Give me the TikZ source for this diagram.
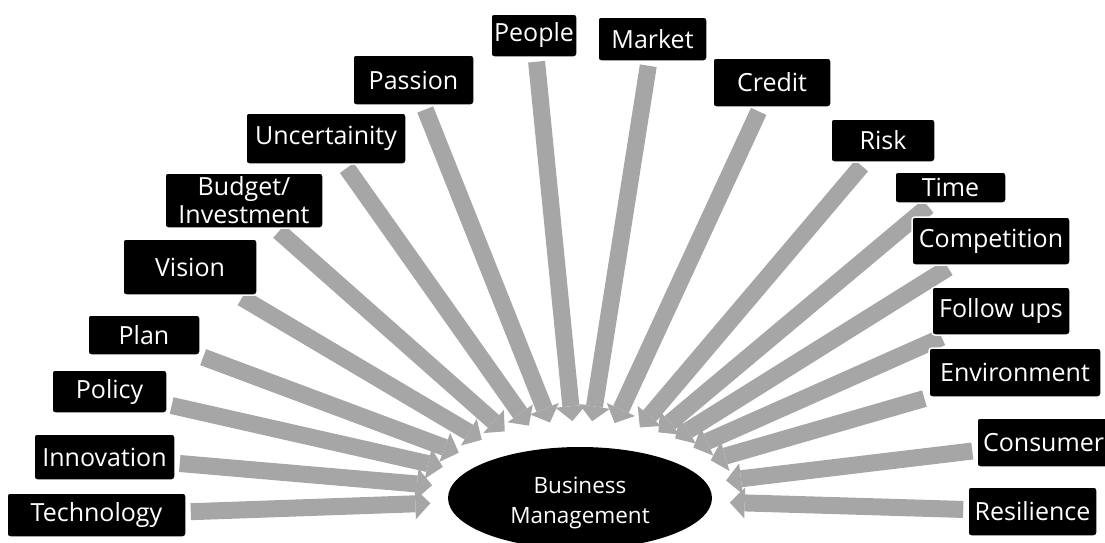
\documentclass[tikz,border=0pt]{standalone}
\usepackage{fontspec}
\setmainfont{Open Sans}
\usetikzlibrary{arrows.meta,shapes.geometric}
\pgfdeclarelayer{bg}
\pgfsetlayers{bg,main}
\definecolor{arrowgray}{RGB}{166,166,166}
\newcommand{\dropline}[1]{\raisebox{-5pt}[\height][\depth]{#1}}
\begin{document}
\begin{tikzpicture}[x=1pt,y=-1pt,
  box/.style={fill=black, draw=white, line width=1.5pt, rounded corners=3pt, text=white,
    inner sep=0pt, font=\fontsize{25}{28}\selectfont, align=center},
  flow/.style={draw=arrowgray, line width=17pt,
    -{Triangle[width=31pt,length=15pt,line width=0pt]}, shorten <=4pt}]
\useasboundingbox (0,0) rectangle (1105,542);
\node[ellipse, fill=black, minimum width=264pt, minimum height=102pt, inner sep=0pt,
  outer xsep=18pt, outer ysep=26pt, text=white, align=center,
  font=\fontsize{22.5}{30}\selectfont] (bm) at (580,498) {\dropline{Business}\\\dropline{Management}};
% left side
\node[box, minimum width=179pt, minimum height=44pt] (tech) at (96.5,515) {Technology};
\node[box, minimum width=141pt, minimum height=46pt] (inno) at (104.5,457) {Innovation};
\node[box, minimum width=115pt, minimum height=43pt] (policy) at (109.5,391.5) {Policy};
\node[box, minimum width=112pt, minimum height=40pt] (plan) at (144,335) {Plan};
\node[box, minimum width=134pt, minimum height=56pt] (vision) at (190,267) {Vision};
\node[box, minimum width=158pt, minimum height=55pt] (budget) at (244,200.5) {Budget/\\Investment};
\node[box, minimum width=160pt, minimum height=51pt] (uncert) at (326,138.5) {Uncertainity};
\node[box, minimum width=121pt, minimum height=50pt] (passion) at (413.5,80) {Passion};
\node[box, minimum width=86pt, minimum height=43pt] (people) at (534,35.5) {People};
% right side
\node[box, minimum width=109pt, minimum height=44pt] (market) at (652.5,39) {Market};
\node[box, minimum width=118pt, minimum height=49pt] (credit) at (772,82.5) {Credit};
\node[box, minimum width=104pt, minimum height=43pt] (risk) at (883,140.5) {Risk};
\node[box, minimum width=111pt, minimum height=31pt] (time) at (950.5,187.5) {Time};
\node[box, minimum width=158pt, minimum height=48pt] (compet) at (991,241) {Competition};
\node[box, minimum width=138pt, minimum height=48pt] (follow) at (1001,311) {Follow ups};
\node[box, minimum width=172pt, minimum height=49pt] (env) at (1015,372.5) {Environment};
\node[box, minimum width=133pt, minimum height=49pt] (consumer) at (1043.5,442.5) {Consumer};
\node[box, minimum width=129pt, minimum height=49pt] (resil) at (1032.5,511.5) {Resilience};
\begin{pgfonlayer}{bg}
\foreach \n in {tech,inno,policy,plan,vision,budget,uncert,passion,people,
                resil,consumer,env,follow,compet,time,risk,credit,market}
  \draw[flow] (\n) -- (bm);
\end{pgfonlayer}
\end{tikzpicture}
\end{document}
